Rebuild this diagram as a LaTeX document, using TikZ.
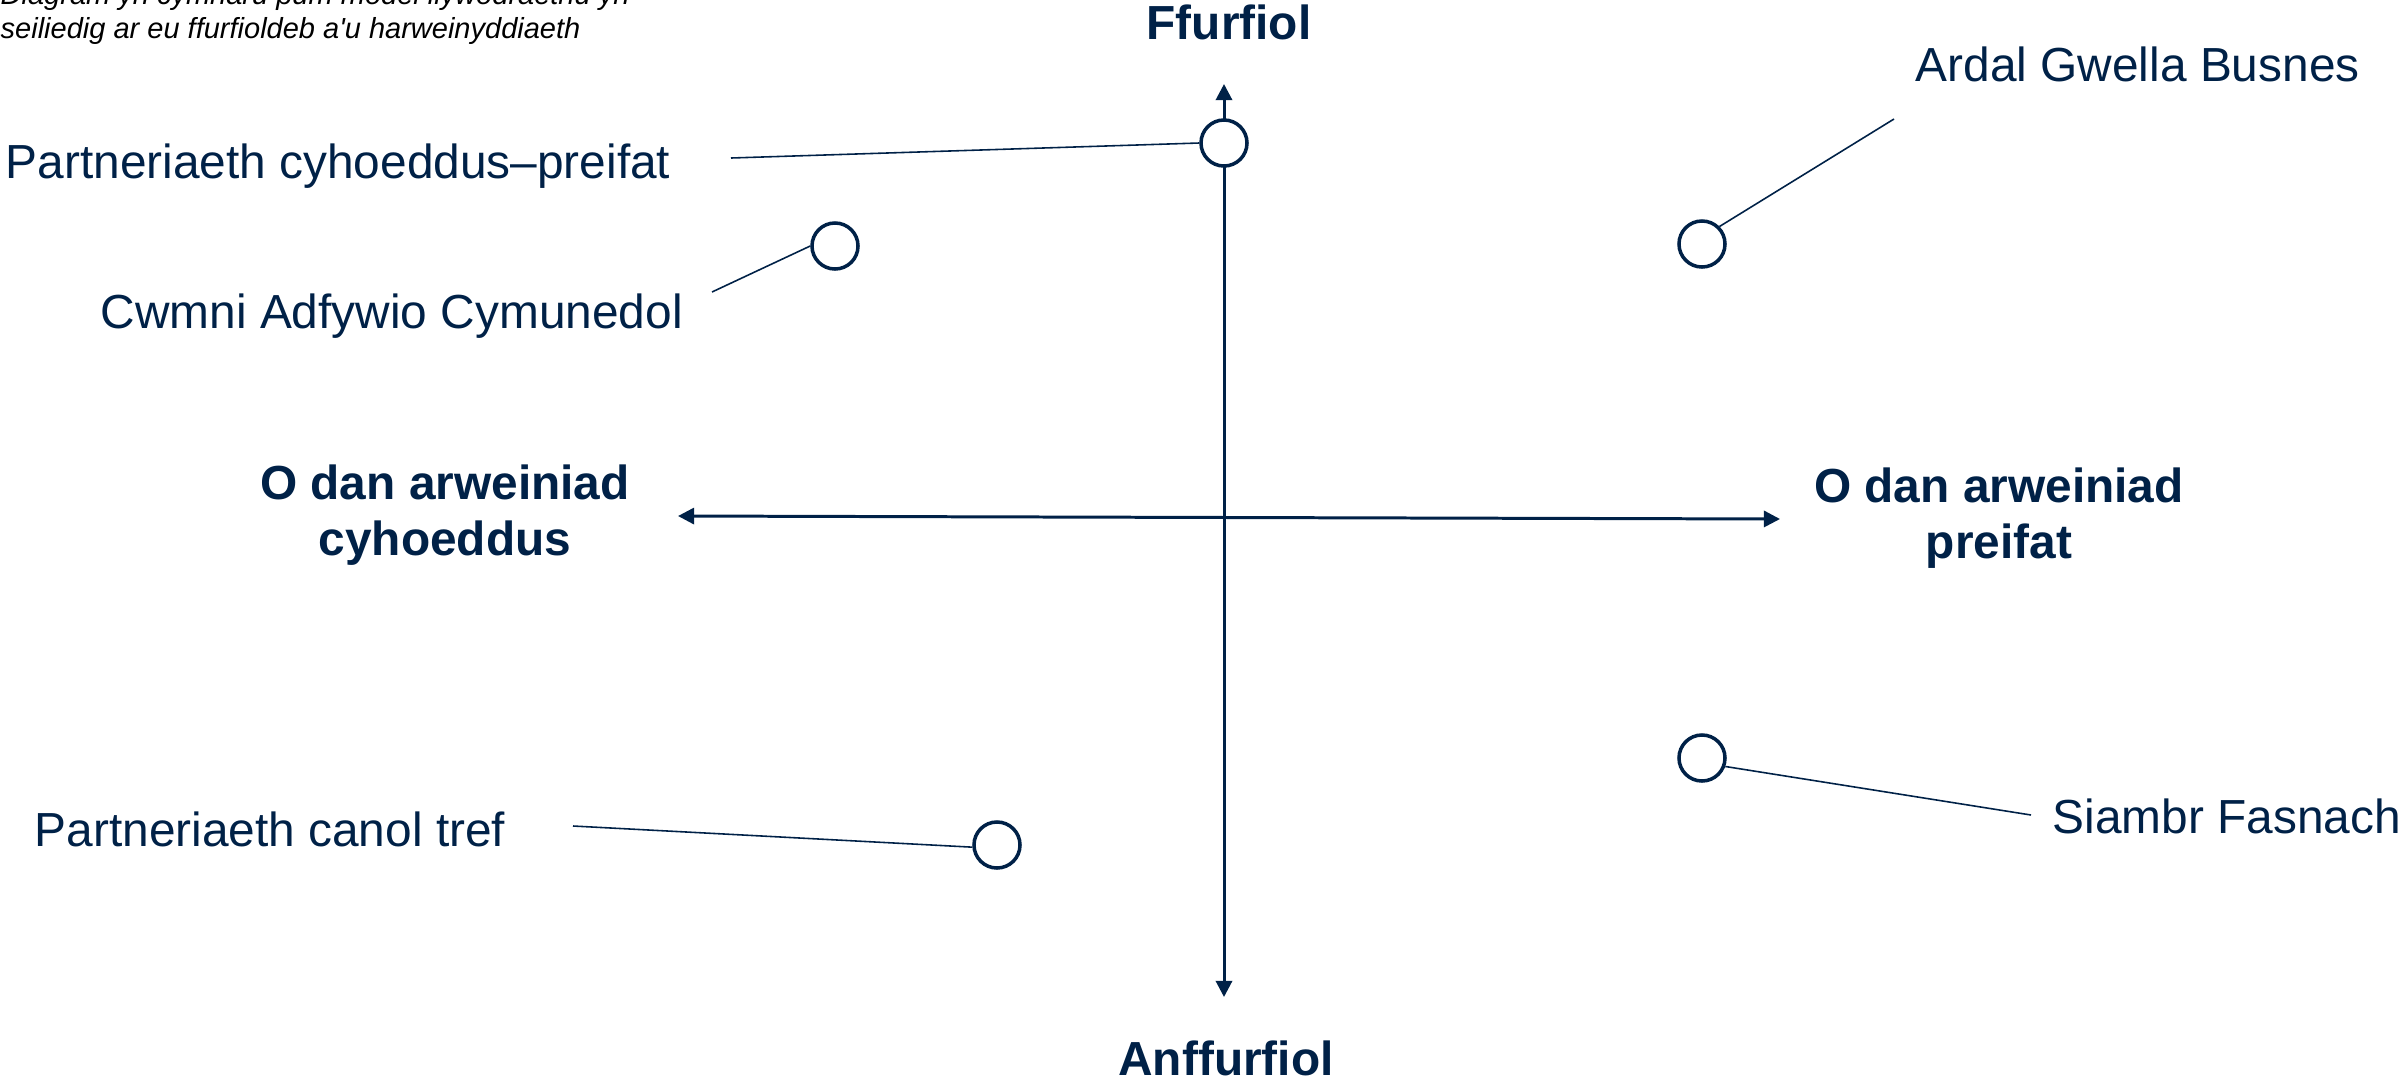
\documentclass[tikz,border=0pt]{standalone}
\usepackage{fontspec}
\setmainfont{Liberation Sans}
\newfontfamily\captionfont{Liberation Sans}
\usetikzlibrary{arrows.meta}
\usetikzlibrary{positioning}
\definecolor{navy}{RGB}{0,33,71}

\begin{document}
\begin{tikzpicture}[x=0.01cm, y=-0.01cm,
  axis/.style={navy, line width=0.85pt,
    {Triangle[length=4.6pt,width=4.6pt]}-{Triangle[length=4.6pt,width=4.6pt]}},
  marker/.style={circle, draw=navy, line width=1pt, fill=white,
    inner sep=0pt, minimum size=0.46cm},
  leader/.style={navy, line width=0.45pt},
  lbl/.style={navy, inner sep=0pt, anchor=base west,
    font=\fontsize{13.6}{16}\selectfont},
  pole/.style={navy, inner sep=0pt, align=center,
    font=\fontsize{13.6}{15.9}\selectfont\bfseries}]
  \useasboundingbox (0,0) rectangle (2402,1084);

  % caption
  \node[anchor=base west, inner sep=0pt, align=left,
    font=\fontsize{8.25}{9.4}\captionfont\itshape] (caption) at (0,38)
    {Diagram yn cymharu pum model llywodraethu yn\\
     seiliedig ar eu ffurfioldeb a'u harweinyddiaeth};

  % axes
  \coordinate (ax-t) at (1224,84);
  \coordinate (ax-b) at (1224,997);
  \coordinate (ax-l) at (678,516);
  \coordinate (ax-r) at (1780,519);
  \draw[axis] (ax-b) -- (ax-t);
  \draw[axis] (ax-l) -- (ax-r);

  % poles
  \node[pole, anchor=base] (formal) at (1229,39) {Ffurfiol};
  \node[pole, anchor=base] (informal) at (1226,1075) {Anffurfiol};
  \node[pole, anchor=base] (public) at (445,555) {O dan arweiniad\\cyhoeddus};
  \node[pole, anchor=base] (private) at (1999,558) {O dan arweiniad\\preifat};

  % models
  \node[marker] (pcp) at (1224,143) {};
  \node[marker] (cac) at (835,246) {};
  \node[marker] (agb) at (1702,244) {};
  \node[marker] (sf) at (1702,758) {};
  \node[marker] (pct) at (997,845) {};

  % labels
  \node[lbl] (pcp-lbl) at (5,178) {Partneriaeth cyhoeddus–preifat};
  \node[lbl] (cac-lbl) at (100,328) {Cwmni Adfywio Cymunedol};
  \node[lbl] (agb-lbl) at (1915,81) {Ardal Gwella Busnes};
  \node[lbl] (sf-lbl) at (2052,833) {Siambr Fasnach};
  \node[lbl] (pct-lbl) at (34,846) {Partneriaeth canol tref};

  % leaders
  \coordinate (pcp-end) at (731,158);
  \coordinate (cac-end) at (712,292);
  \coordinate (agb-end) at (1894,119);
  \coordinate (sf-end) at (2031,815);
  \coordinate (pct-end) at (573,826);
  \draw[leader] (pcp-end) -- (pcp.west);
  \draw[leader] (cac-end) -- (cac.west);
  \draw[leader] (agb-end) -- (agb.45);
  \draw[leader] (sf-end) -- (sf.-20);
  \draw[leader] (pct-end) -- (pct.185);
\end{tikzpicture}
\end{document}
